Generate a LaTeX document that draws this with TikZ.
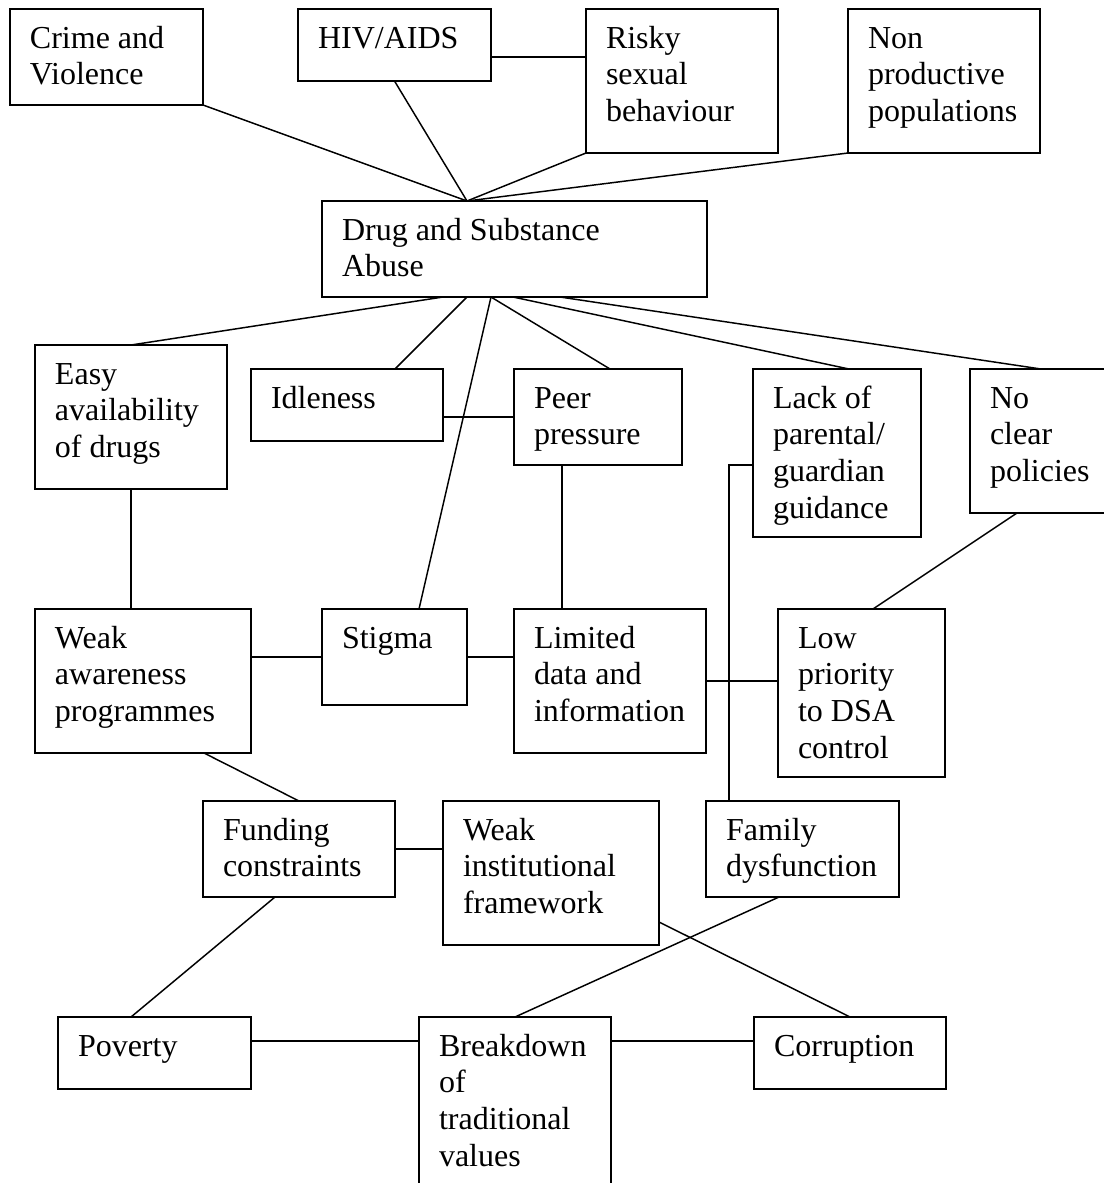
\documentclass[tikz,border=0pt]{standalone}
\usepackage{fontspec}
\setmainfont{Liberation Serif}
\usepackage{tikz}
\usetikzlibrary{calc}

\tikzset{
  box/.style 2 args={draw, line width=1.3pt, outer sep=0pt, anchor=north west,
    align=left, inner xsep=15pt, inner ysep=0pt,
    text width={(#1-40)*0.75pt}, text height=29.25pt, text depth={(#2-39)*0.75pt},
    font=\fontsize{24}{27.5}\selectfont,
    execute at begin node={\spaceskip=0pt\xspaceskip=0pt\relax}},
  link/.style={line width=1.1pt}
}

\begin{document}
\begin{tikzpicture}[x=0.75pt, y=-0.75pt]
\useasboundingbox (0,0) rectangle (1104,1183);
\clip (0,0) rectangle (1104,1183);

\node[box={193}{96}] (crime) at (10,9) {Crime and\\Violence};
\node[box={193}{72}] (hiv) at (298,9) {HIV/AIDS};
\node[box={192}{144}] (risky) at (586,9) {Risky\\sexual\\behaviour};
\node[box={192}{144}] (nonprod) at (848,9) {Non\\productive\\populations};
\node[box={385}{96}] (dsa) at (322,201) {Drug and Substance\\Abuse};

\node[box={192}{144}] (easy) at (35,345) {Easy\\availability\\of drugs};
\node[box={192}{72}] (idle) at (251,369) {Idleness};
\node[box={168}{96}] (peer) at (514,369) {Peer\\pressure};
\node[box={168}{168}] (lack) at (753,369) {Lack of\\parental/\\guardian\\guidance};
\node[box={192}{144}] (policy) at (970,369) {No\\clear\\policies};

\node[box={216}{144}] (weakaw) at (35,609) {Weak\\awareness\\programmes};
\node[box={145}{96}] (stigma) at (322,609) {Stigma};
\node[box={192}{144}] (limited) at (514,609) {Limited\\data and\\information};
\node[box={167}{168}] (lowpri) at (778,609) {Low\\priority\\to DSA\\control};

\node[box={192}{96}] (funding) at (203,801) {Funding\\constraints};
\node[box={216}{144}] (weakinst) at (443,801) {Weak\\institutional\\framework};
\node[box={193}{96}] (family) at (706,801) {Family\\dysfunction};

\node[box={193}{72}] (poverty) at (58,1017) {Poverty};
\node[box={192}{192}] (breakdown) at (419,1017) {Breakdown\\of\\traditional\\values};
\node[box={192}{72}] (corruption) at (754,1017) {Corruption};

\coordinate (dsatop) at ($(dsa.north west)+(145,0)$);
\draw[link] (crime.south east) -- (dsatop);
\draw[link] (hiv.south) -- (dsatop);
\draw[link] (risky.south west) -- (dsatop);
\draw[link] (nonprod.south west) -- (dsatop);
\draw[link] ($(hiv.north east)+(0,48)$) -- ($(risky.north west)+(0,48)$);

\draw[link] ($(dsa.south west)+(121,0)$) -- (easy.north);
\draw[link] ($(dsa.south west)+(145,0)$) -- ($(idle.north west)+(144,0)$);
\draw[link] ($(dsa.south west)+(169,0)$) -- ($(stigma.north west)+(97,0)$);
\draw[link] ($(dsa.south west)+(169,0)$) -- ($(peer.north west)+(96,0)$);
\draw[link] ($(dsa.south west)+(191,0)$) -- ($(lack.north west)+(96,0)$);
\draw[link] ($(dsa.south west)+(238,0)$) -- ($(policy.north west)+(71,0)$);

\draw[link] ($(idle.north east)+(0,48)$) -- ($(peer.north west)+(0,48)$);
\draw[link] (easy.south) -- (easy.south |- weakaw.north);
\draw[link] ($(peer.south west)+(48,0)$) coordinate (pb) -- (pb |- limited.north);
\draw[link] ($(lack.north west)+(0,96)$) -| ($(family.north west)+(23,0)$);
\draw[link] ($(policy.south west)+(47,0)$) -- ($(lowpri.north west)+(95,0)$);

\draw[link] (stigma.west -| weakaw.east) -- (stigma.west);
\draw[link] (stigma.east) -- (stigma.east -| limited.west);
\draw[link] (limited.east) -- (limited.east -| lowpri.west);

\draw[link] ($(weakaw.south west)+(169,0)$) -- (funding.north);
\draw[link] (funding.east) -- (funding.east -| weakinst.west);
\draw[link] ($(funding.south west)+(72,0)$) -- ($(poverty.north west)+(73,0)$);
\draw[link] ($(weakinst.north east)+(0,121)$) -- (corruption.north);
\draw[link] ($(family.south west)+(73,0)$) -- (breakdown.north);

\draw[link] ($(poverty.north east)+(0,24)$) -- ($(breakdown.north west)+(0,24)$);
\draw[link] ($(breakdown.north east)+(0,24)$) -- ($(corruption.north west)+(0,24)$);
\end{tikzpicture}
\end{document}
